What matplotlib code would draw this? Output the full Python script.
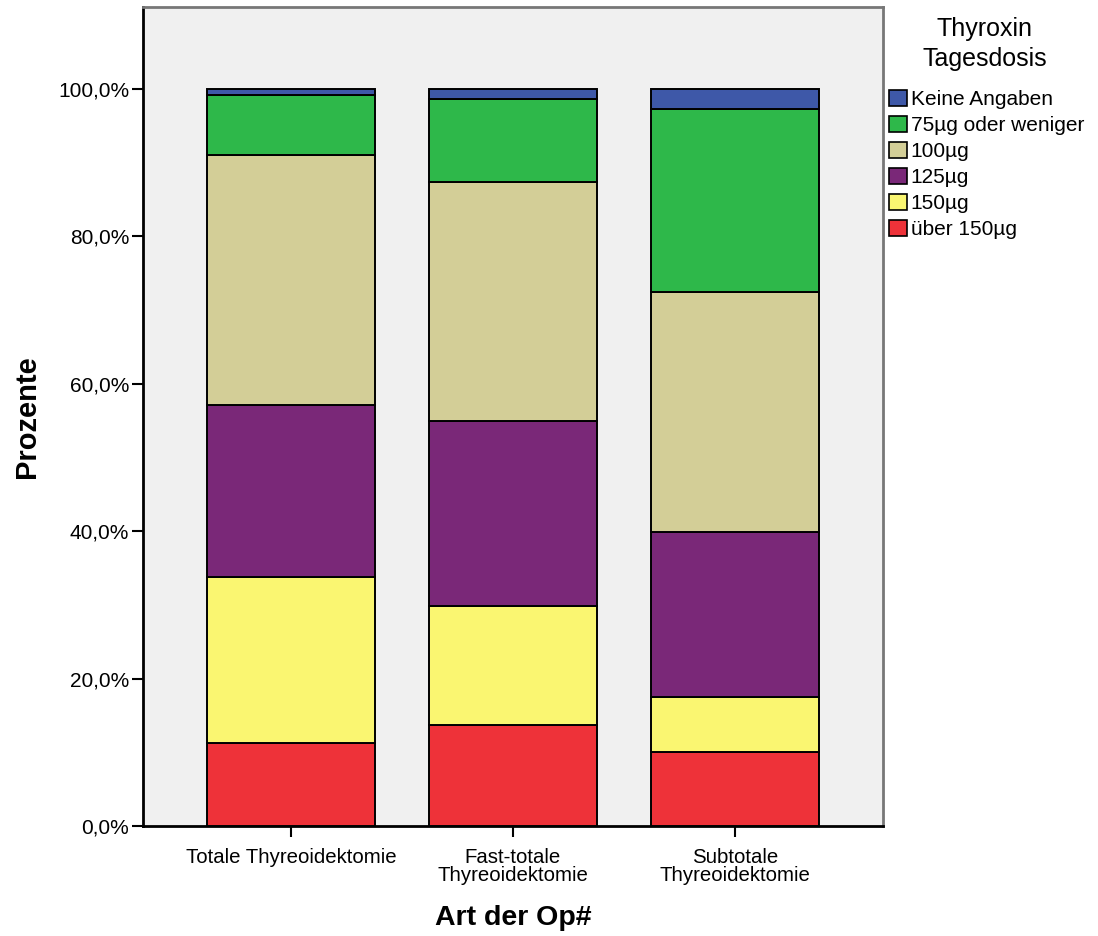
import matplotlib
matplotlib.use("Agg")
import matplotlib.pyplot as plt
from matplotlib.patches import Patch
from matplotlib.ticker import FuncFormatter

plt.rcParams["font.family"] = ["Liberation Sans", "DejaVu Sans"]

# Art der Op# categories
categories = ["Totale Thyreoidektomie", "Fast-totale\nThyreoidektomie",
              "Subtotale\nThyreoidektomie"]

# segment shares in percent, stacked bottom to top
ueber_150 = [11.3, 13.7, 10.0]
dose_150 = [22.5, 16.2, 7.5]
dose_125 = [23.3, 25.1, 22.4]
dose_100 = [33.9, 32.4, 32.6]
dose_75 = [8.2, 11.2, 24.8]
keine = [0.8, 1.4, 2.7]

series = [
    ("über 150µg", ueber_150, "#ee3239"),
    ("150µg", dose_150, "#faf671"),
    ("125µg", dose_125, "#7a2878"),
    ("100µg", dose_100, "#d3ce97"),
    ("75µg oder weniger", dose_75, "#2eb84a"),
    ("Keine Angaben", keine, "#3e58a8"),
]

fig = plt.figure(figsize=(10.98, 9.36), dpi=100)
ax = fig.add_axes([0.1302, 0.1175, 0.6740, 0.875])
ax.set_facecolor("#f0f0f0")

x = list(range(len(categories)))
bottom = [0.0] * len(categories)
for name, vals, col in series:
    ax.bar(x, vals, width=0.757, bottom=bottom, color=col,
           edgecolor="black", linewidth=1.4, zorder=3)
    bottom = [b + v for b, v in zip(bottom, vals)]

ax.set_xlim(-0.667, 2.667)
ax.set_ylim(0, 111.1)
ax.set_yticks([0, 20, 40, 60, 80, 100])
ax.yaxis.set_major_formatter(FuncFormatter(lambda v, p: f"{v:.1f}%".replace(".", ",")))
ax.set_xticks(x)
ax.set_xticklabels(categories, fontsize=14.7, linespacing=0.95)
ax.tick_params(axis="y", labelsize=15, length=8, width=1.5, pad=2)
ax.tick_params(axis="x", length=8, width=1.5, pad=8)

for s in ["left", "bottom"]:
    ax.spines[s].set_linewidth(2)
    ax.spines[s].set_color("black")
for s in ["top", "right"]:
    ax.spines[s].set_linewidth(2)
    ax.spines[s].set_color("#777777")

ax.set_ylabel("Prozente", fontsize=21, fontweight="bold", labelpad=12)
ax.set_xlabel("Art der Op#", fontsize=20.5, fontweight="bold", labelpad=14)

fig.text(0.897, 0.953, "Thyroxin\nTagesdosis", ha="center", va="center",
         fontsize=18, linespacing=1.3)
handles = [Patch(facecolor=col, edgecolor="black", linewidth=1.2, label=name)
           for name, vals, col in reversed(series)]
fig.legend(handles=handles, loc="upper left", bbox_to_anchor=(0.802, 0.913),
           frameon=False, fontsize=15, handlelength=0.85, handleheight=0.85,
           handletextpad=0.2, labelspacing=0.31, borderaxespad=0)

fig.savefig("out.png", dpi=100)
